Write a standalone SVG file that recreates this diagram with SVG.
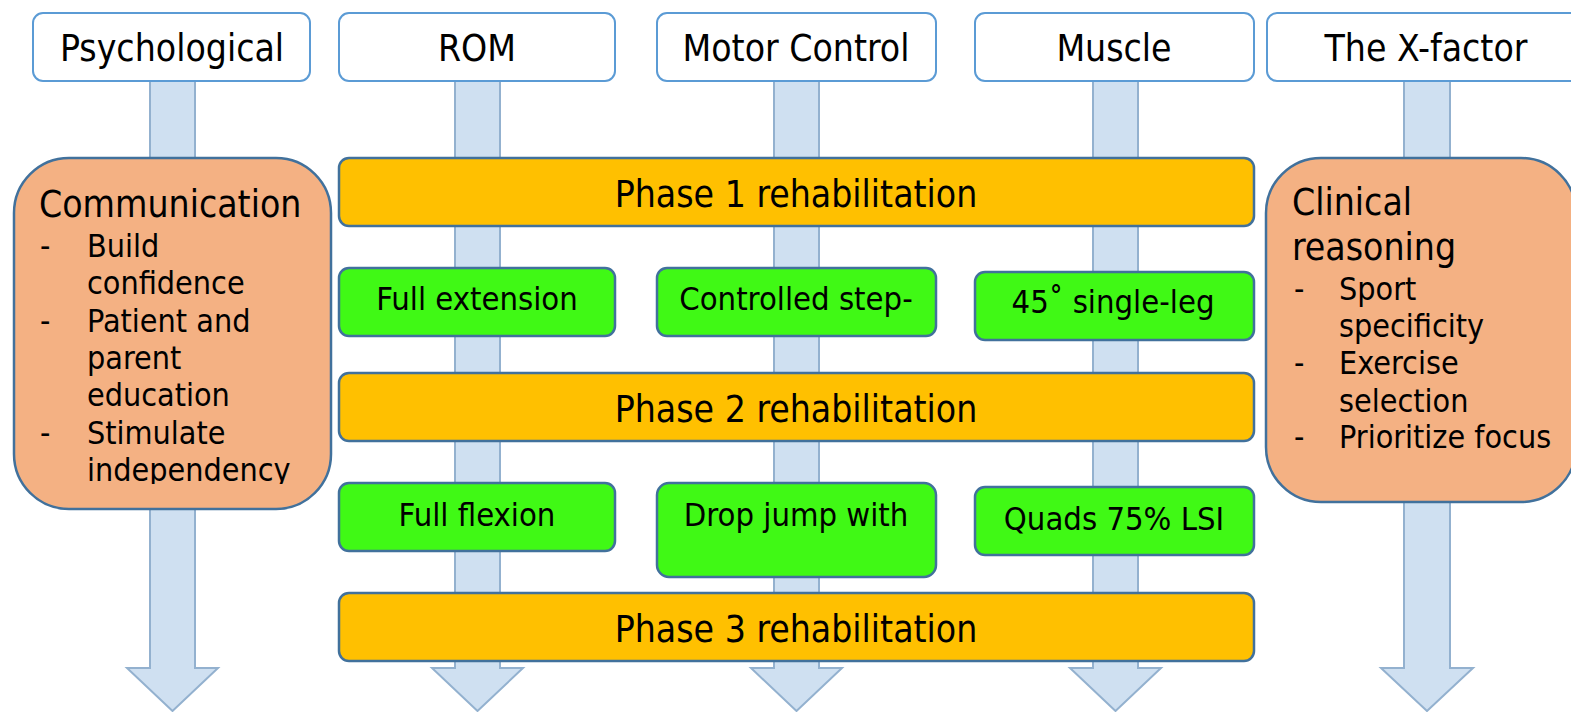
<svg xmlns="http://www.w3.org/2000/svg" width="1571" height="712" viewBox="0 0 1571 712">
<defs>
<style>
text{font-family:"DejaVu Sans Condensed","DejaVu Sans",sans-serif;font-stretch:condensed;fill:#000}
.t{font-size:37px;text-anchor:middle}
.b{font-size:32px}
.bm{font-size:32.5px;text-anchor:middle}
.hdr{fill:#fff;stroke:#5B9BD5;stroke-width:2}
.ph{fill:#FFC000;stroke:#41719C;stroke-width:2.5}
.gr{fill:#40F915;stroke:#41719C;stroke-width:2.5}
.or{fill:#F4B183;stroke:#41719C;stroke-width:2.5}
.ar{fill:#CFE0F1;stroke:#93B1CF;stroke-width:2}
</style>
<clipPath id="commClip"><rect x="0" y="150" width="340" height="334"/></clipPath>
</defs>
<rect width="1571" height="712" fill="#fff"/>
<g id="connectors">
<polygon class="ar" points="150,81 195,81 195,668 218,668 172.5,711 127,668 150,668"/>
<polygon class="ar" points="455,81 500,81 500,668 523,668 477.5,711 432,668 455,668"/>
<polygon class="ar" points="774,81 819,81 819,668 842,668 796.5,711 751,668 774,668"/>
<polygon class="ar" points="1093,81 1138,81 1138,668 1161,668 1115.5,711 1070,668 1093,668"/>
<polygon class="ar" points="1404,81 1450,81 1450,668 1473,668 1427,711 1381,668 1404,668"/>
</g>
<g id="h-psych"><rect class="hdr" x="33" y="13" width="277" height="68" rx="10"/><text class="t" x="172" y="61">Psychological</text></g>
<g id="h-rom"><rect class="hdr" x="339" y="13" width="276" height="68" rx="10"/><text class="t" x="477" y="61">ROM</text></g>
<g id="h-motor"><rect class="hdr" x="657" y="13" width="279" height="68" rx="10"/><text class="t" x="796" y="61">Motor Control</text></g>
<g id="h-muscle"><rect class="hdr" x="975" y="13" width="279" height="68" rx="10"/><text class="t" x="1114" y="61">Muscle</text></g>
<g id="h-xfactor"><rect class="hdr" x="1267" y="13" width="320" height="68" rx="10"/><text class="t" x="1426" y="61">The X-factor</text></g>
<g id="communication">
<rect class="or" x="14" y="158" width="317" height="351" rx="55"/>
<text class="t" x="39" y="217" style="text-anchor:start">Communication</text>
<g clip-path="url(#commClip)">
<text class="b" x="40" y="257">-</text><text class="b" x="87" y="257">Build</text>
<text class="b" x="87" y="294">confidence</text>
<text class="b" x="40" y="331.5">-</text><text class="b" x="87" y="331.5">Patient and</text>
<text class="b" x="87" y="368.5">parent</text>
<text class="b" x="87" y="406">education</text>
<text class="b" x="40" y="443.5">-</text><text class="b" x="87" y="443.5">Stimulate</text>
<text class="b" x="87" y="481">independency</text>
</g>
</g>
<g id="clinical">
<rect class="or" x="1266" y="158" width="310" height="344" rx="55"/>
<text class="t" x="1292" y="215" style="text-anchor:start">Clinical</text>
<text class="t" x="1292" y="260" style="text-anchor:start">reasoning</text>
<text class="b" x="1294" y="300">-</text><text class="b" x="1339" y="300">Sport</text>
<text class="b" x="1339" y="337">specificity</text>
<text class="b" x="1294" y="374">-</text><text class="b" x="1339" y="374">Exercise</text>
<text class="b" x="1339" y="411.5">selection</text>
<text class="b" x="1294" y="448">-</text><text class="b" x="1339" y="448">Prioritize focus</text>
</g>
<g id="phase1"><rect class="ph" x="339" y="158" width="915" height="68" rx="10"/><text class="t" x="796" y="207">Phase 1 rehabilitation</text></g>
<g id="full-extension"><rect class="gr" x="339" y="268" width="276" height="68" rx="10"/><text class="bm" x="477" y="310">Full extension</text></g>
<g id="controlled-step"><rect class="gr" x="657" y="268" width="279" height="68" rx="10"/><text class="bm" x="796" y="310">Controlled step-</text></g>
<g id="single-leg"><rect class="gr" x="975" y="272" width="279" height="68" rx="10"/><text class="bm" x="1113" y="313">45˚ single-leg</text></g>
<g id="phase2"><rect class="ph" x="339" y="373" width="915" height="68" rx="10"/><text class="t" x="796" y="422">Phase 2 rehabilitation</text></g>
<g id="full-flexion"><rect class="gr" x="339" y="483" width="276" height="68" rx="10"/><text class="bm" x="477" y="526">Full flexion</text></g>
<g id="drop-jump"><rect class="gr" x="657" y="483" width="279" height="94" rx="12"/><text class="bm" x="796" y="526">Drop jump with</text></g>
<g id="quads"><rect class="gr" x="975" y="487" width="279" height="68" rx="10"/><text class="bm" x="1114" y="530">Quads 75% LSI</text></g>
<g id="phase3"><rect class="ph" x="339" y="593" width="915" height="68" rx="10"/><text class="t" x="796" y="642">Phase 3 rehabilitation</text></g>
</svg>
